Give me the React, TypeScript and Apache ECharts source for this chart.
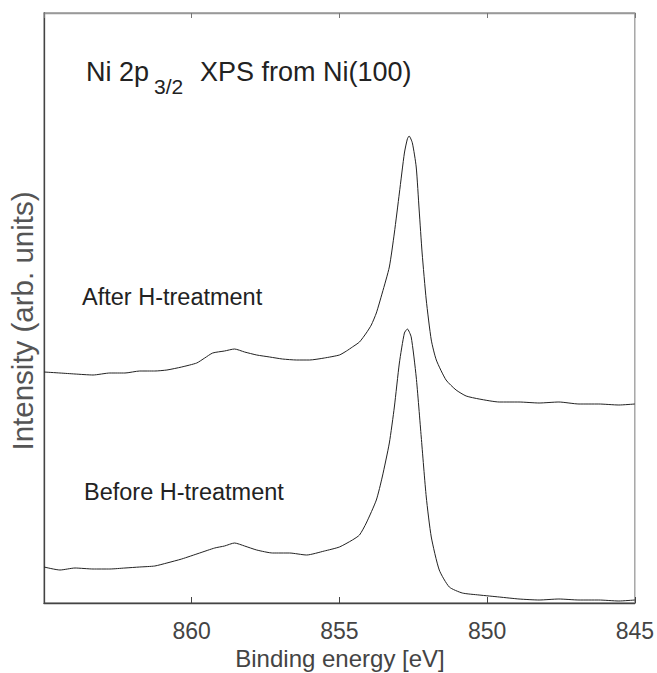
import React, { useEffect, useRef } from "react";
import * as echarts from "echarts";

// Binding energy (eV) and intensity (arb. units)
const afterEnergy = [865.0, 864.46, 863.95, 863.34, 862.77, 862.26, 861.76, 861.25, 860.84, 860.34, 859.83, 859.56, 859.29, 858.89, 858.55, 858.21, 857.8, 857.36, 856.93, 856.45, 856.01, 855.51, 855.0, 854.76, 854.56, 854.32, 854.09, 853.92, 853.75, 853.55, 853.31, 853.14, 852.97, 852.8, 852.7, 852.64, 852.53, 852.4, 852.3, 852.2, 852.06, 851.89, 851.72, 851.39, 851.05, 850.71, 850.27, 849.59, 848.92, 848.24, 847.57, 846.89, 846.22, 845.54, 845.0];
const afterIntensity = [231, 230, 229, 228, 230, 230, 232, 232, 233, 236, 240, 245, 250, 252, 254, 251, 248, 246, 244, 243, 243, 245, 248, 252, 256, 261, 270, 278, 290, 310, 336, 370, 410, 450, 464, 467, 460, 436, 393, 350, 303, 263, 243, 223, 213, 207, 204, 201, 201, 200, 201, 199, 199, 198, 199];

const beforeEnergy = [865.0, 864.46, 863.95, 863.34, 862.77, 862.26, 861.76, 861.25, 860.84, 860.34, 859.73, 859.22, 858.89, 858.55, 858.21, 857.8, 857.26, 856.69, 856.11, 855.51, 855.0, 854.56, 854.32, 854.09, 853.75, 853.55, 853.31, 853.14, 852.97, 852.8, 852.7, 852.57, 852.4, 852.23, 852.06, 851.89, 851.62, 851.28, 850.84, 850.27, 849.59, 848.92, 848.24, 847.57, 846.89, 846.22, 845.54, 845.0];
const beforeIntensity = [36, 33, 35, 34, 34, 35, 36, 37, 40, 44, 50, 55, 57, 60, 57, 53, 50, 50, 48, 52, 56, 63, 68, 80, 103, 126, 160, 196, 240, 270, 274, 266, 226, 166, 106, 66, 33, 16, 10, 8, 6, 4, 3, 4, 3, 3, 2, 3];

const xTicks = [845, 850, 855, 860];
const FONT = "'Liberation Sans', Arial, sans-serif";

export default function App() {
  const ref = useRef<HTMLDivElement>(null);
  useEffect(() => {
    document.body.style.margin = "0";
    const chart = echarts.init(ref.current!, null, { renderer: "svg" });
    const after = afterEnergy.map((e, i) => [e, afterIntensity[i]]);
    const before = beforeEnergy.map((e, i) => [e, beforeIntensity[i]]);
    chart.setOption({
      animation: false,
      backgroundColor: "#fff",
      grid: {
        left: 44,
        right: 21,
        top: 13,
        bottom: 70,
        containLabel: false,
        show: true,
        borderColor: "#999",
        borderWidth: 1.3,
      },
      xAxis: [
        {
          type: "value",
          min: 845,
          max: 865,
          interval: 5,
          inverse: true,
          position: "bottom",
          axisLine: { show: true, onZero: false, lineStyle: { color: "#444", width: 1.3 } },
          axisTick: { show: true, inside: true, length: 6, lineStyle: { color: "#444" } },
          axisLabel: {
            color: "#444",
            fontSize: 23,
            fontFamily: FONT,
            margin: 16,
            showMaxLabel: false,
            formatter: (v: number) => (xTicks.includes(v) ? String(v) : ""),
          },
          splitLine: { show: false },
        },
        {
          type: "value",
          min: 845,
          max: 865,
          interval: 5,
          inverse: true,
          position: "top",
          axisLine: { show: true, onZero: false, lineStyle: { color: "#999", width: 1.3 } },
          axisTick: { show: true, inside: true, length: 5, lineStyle: { color: "#777" } },
          axisLabel: { show: false },
          splitLine: { show: false },
        },
      ],
      yAxis: [
        {
          type: "value",
          min: 0,
          max: 590,
          position: "left",
          axisLine: { show: true, onZero: false, lineStyle: { color: "#444", width: 1.3 } },
          axisTick: { show: false },
          axisLabel: { show: false },
          splitLine: { show: false },
        },
      ],
      series: [
        {
          name: "After H-treatment",
          type: "line",
          data: after,
          showSymbol: false,
          smooth: 0.2,
          lineStyle: { color: "#222", width: 1 },
        },
        {
          name: "Before H-treatment",
          type: "line",
          data: before,
          showSymbol: false,
          smooth: 0.2,
          lineStyle: { color: "#222", width: 1 },
        },
        {
          name: "top-axis",
          type: "line",
          xAxisIndex: 1,
          data: [],
          showSymbol: false,
        },
      ],
      graphic: [
        { type: "text", left: 86, top: 58, style: { text: "Ni 2p", fontSize: 27, fontFamily: FONT, fill: "#222" } },
        { type: "text", left: 154, top: 76, style: { text: "3/2", fontSize: 21, fontFamily: FONT, fill: "#222" } },
        { type: "text", left: 200, top: 58, style: { text: "XPS from Ni(100)", fontSize: 27, fontFamily: FONT, fill: "#222" } },
        { type: "text", left: 82, top: 285, style: { text: "After H-treatment", fontSize: 23.5, fontFamily: FONT, fill: "#222" } },
        { type: "text", left: 84, top: 480, style: { text: "Before H-treatment", fontSize: 23.5, fontFamily: FONT, fill: "#222" } },
        {
          type: "text",
          x: 22,
          y: 321,
          rotation: Math.PI / 2,
          style: {
            text: "Intensity (arb. units)",
            fontSize: 29.5,
            fontFamily: FONT,
            fill: "#555",
            align: "center",
            verticalAlign: "middle",
          },
        },
        {
          type: "text",
          x: 340,
          y: 658,
          style: {
            text: "Binding energy [eV]",
            fontSize: 24,
            fontFamily: FONT,
            fill: "#444",
            align: "center",
            verticalAlign: "middle",
          },
        },
      ],
    });
    return () => chart.dispose();
  }, []);
  return <div ref={ref} style={{ width: 657, height: 673 }} />;
}
